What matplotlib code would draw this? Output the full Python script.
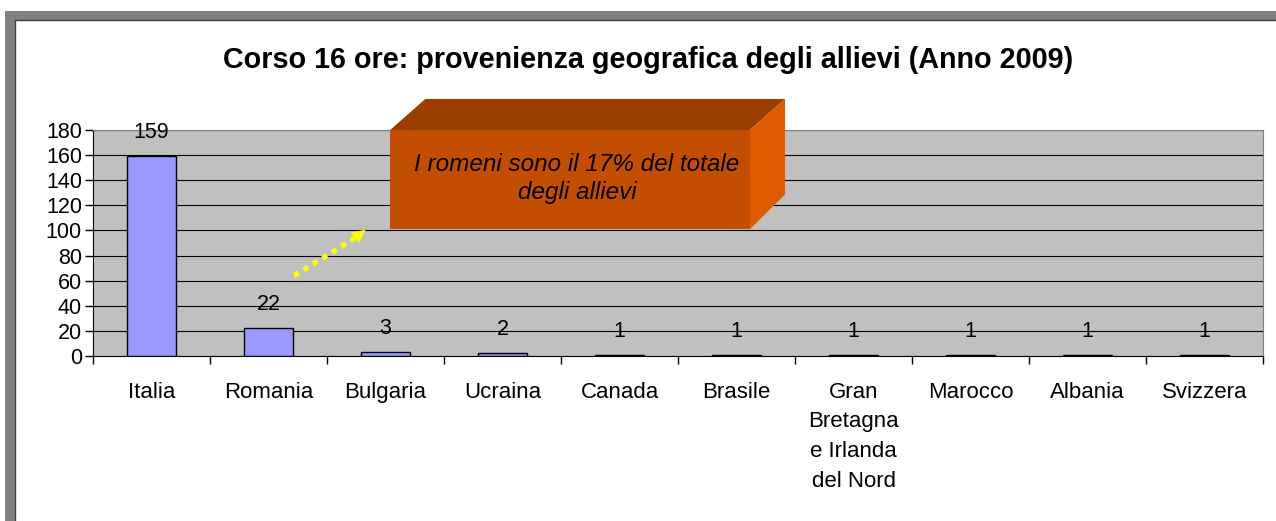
import matplotlib.pyplot as plt
import numpy as np
from matplotlib.patches import Rectangle, Polygon

paesi = ['Italia', 'Romania', 'Bulgaria', 'Ucraina', 'Canada', 'Brasile',
         'Gran\nBretagna\ne Irlanda\ndel Nord', 'Marocco', 'Albania', 'Svizzera']
allievi = [159, 22, 3, 2, 1, 1, 1, 1, 1, 1]
yticks = list(range(0, 181, 20))

titolo = 'Corso 16 ore: provenienza geografica degli allievi (Anno 2009)'
nota = 'I romeni sono il 17% del totale\ndegli allievi'

plt.rcParams['font.family'] = ['Liberation Sans', 'DejaVu Sans']

W, H = 1276, 521
fig = plt.figure(figsize=(W / 100, H / 100), dpi=100)
fig.patch.set_facecolor('white')

# cornice grigia
fig.patches.append(Rectangle((5 / W, -0.1), 1.2, 1 - 11 / H + 0.1, transform=fig.transFigure,
                             facecolor='#808080', edgecolor='none', zorder=-10))
fig.patches.append(Rectangle((15 / W, -0.1), 1.2, 1 - 20 / H + 0.1, transform=fig.transFigure,
                             facecolor='white', edgecolor='#404040', lw=1, zorder=-9))

ax = fig.add_axes([93 / W, 1 - 356 / H, (1263 - 93) / W, (356 - 130) / H])
ax.set_facecolor('#C0C0C0')
x = np.arange(len(paesi))
bars = ax.bar(x, allievi, width=0.42, color='#9999FF', edgecolor='black', lw=1, zorder=3)

for xi, v in zip(x, allievi):
    ax.annotate(str(v), (xi, v), xytext=(0, 13), textcoords='offset points',
                ha='center', va='baseline', fontsize=15.5, zorder=4, annotation_clip=False)

ax.set_xlim(-0.5, len(paesi) - 0.5)
ax.set_ylim(0, 180)
ax.set_yticks(yticks)
ax.tick_params(axis='y', labelsize=15.5, length=6, width=1, direction='out', pad=2)
ax.yaxis.grid(True, color='black', lw=0.8, zorder=1)
ax.set_axisbelow(True)
ax.set_xticks(x)
ax.set_xticklabels(paesi, fontsize=16, linespacing=1.55, va='top')
ax.tick_params(axis='x', length=0, pad=18.5)
ax.set_xticks(np.arange(-0.5, len(paesi), 1), minor=True)
ax.tick_params(axis='x', which='minor', length=6, width=1, direction='out')
for s in ['top', 'right']:
    ax.spines[s].set_color('#808080')
ax.spines['left'].set_color('black')
ax.spines['bottom'].set_color('black')

# freccia gialla puntinata
ax.plot([1.22, 1.74], [64, 94], color='#FFFF00', lw=3.8, linestyle=(0, (1, 1.1)),
        solid_capstyle='butt', dash_capstyle='butt', zorder=5)
ax.annotate('', xy=(1.83, 100.5), xytext=(1.70, 91.5),
            arrowprops=dict(arrowstyle='-|>', color='#FFFF00', lw=0.5,
                            mutation_scale=22, shrinkA=0, shrinkB=0), zorder=5)

# riquadro 3D
x0, x1, y0, y1 = 2.04, 5.115, 101, 180
dx, dy = 0.30, 24.7
front = Rectangle((x0, y0), x1 - x0, y1 - y0, facecolor='#C44E00', edgecolor='none',
                  zorder=6, clip_on=False)
top = Polygon([(x0, y1), (x0 + dx, y1 + dy), (x1 + dx, y1 + dy), (x1, y1)],
              facecolor='#993D00', edgecolor='none', zorder=6, clip_on=False)
side = Polygon([(x1, y0), (x1, y1), (x1 + dx, y1 + dy), (x1 + dx, y0 + dy + 3)],
               facecolor='#E05A00', edgecolor='none', zorder=6, clip_on=False)
for p in (front, top, side):
    ax.add_patch(p)
ax.text((x0 + x1) / 2 + 0.06, (y0 + y1) / 2 + 1, nota, ha='center', va='center',
        fontsize=17.5, style='italic', linespacing=1.3, zorder=7)

fig.text(648 / W, 1 - 60 / H, titolo, ha='center', va='center', fontsize=20.7, fontweight='bold')

fig.savefig('out.png', dpi=100)
